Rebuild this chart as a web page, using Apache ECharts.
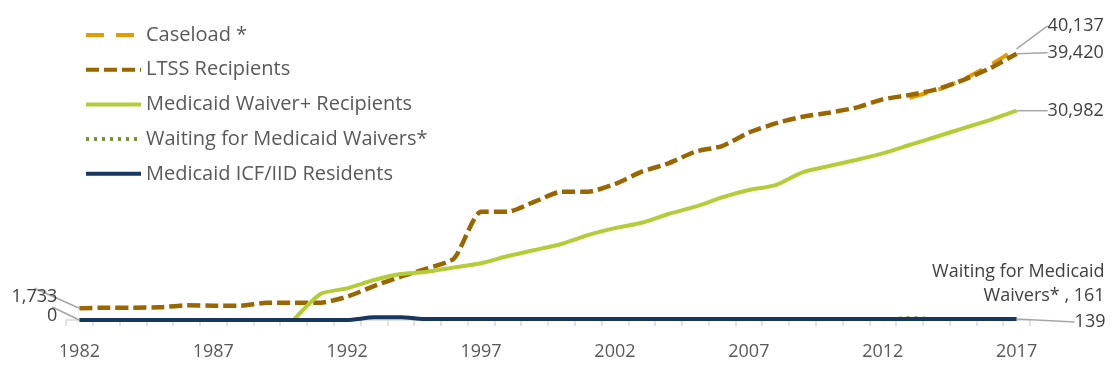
<!DOCTYPE html>
<html><head><meta charset="utf-8">
<script src="https://cdn.jsdelivr.net/npm/echarts@6/dist/echarts.min.js"></script>
<style>html,body{margin:0;padding:0;background:#fff}#c{width:1112px;height:365px}</style>
</head><body><div id="c"></div>
<script>
const years = ['1982','1983','1984','1985','1986','1987','1988','1989','1990','1991',
  '1992','1993','1994','1995','1996','1997','1998','1999','2000','2001',
  '2002','2003','2004','2005','2006','2007','2008','2009','2010','2011',
  '2012','2013','2014','2015','2016','2017'];
const caseload = [null,null,null,null,null,null,null,null,null,null,
  null,null,null,null,null,null,null,null,null,null,
  null,null,null,null,null,null,null,null,null,null,
  null,32900,34000,35600,37700,40137];
const ltss = [1733,1820,1820,1870,2170,2120,2120,2560,2560,2560,
  3450,5030,6410,7650,9130,16030,16030,17510,18990,18990,
  20130,21950,23190,24910,25750,27730,29110,30090,30690,31430,
  32660,33300,34140,35520,37250,39420];
const medicaidWaiver = [null,null,null,null,null,null,null,null,0,3850,
  4690,5920,6800,7150,7790,8390,9470,10360,11250,12580,
  13600,14400,15690,16770,18150,19240,19980,21860,22790,23680,
  24670,25900,27130,28370,29600,30982];
const waiting = [null,null,null,null,null,null,null,null,null,null,
  null,null,null,null,null,null,null,null,null,null,
  null,null,null,null,null,null,null,null,null,null,
  50,350,200,150,150,161];
const icf = [0,0,0,0,0,0,0,0,0,0,
  0,400,400,139,139,139,139,139,139,139,
  139,139,139,139,139,139,139,139,139,139,
  139,139,139,139,139,139];

const names = ['Caseload *','LTSS Recipients','Medicaid Waiver+ Recipients','Waiting for Medicaid Waivers*','Medicaid ICF/IID Residents'];
const FONT = '"Open Sans", sans-serif';
const LBL = {fontFamily: FONT, fontSize: 18, color: '#404040', padding: [0, 3]};
const LEAD = {show: true, length2: 11, lineStyle: {color: '#a6a6a6', width: 1.5}};

function fmt(n) { return n.toLocaleString('en-US'); }
function withLabels(arr, specs) {
  return arr.map((v, i) => {
    const s = specs[i];
    if (!s) return v;
    return {
      value: v,
      label: Object.assign({show: true, position: s.pos,
        formatter: s.text || fmt(v)}, LBL, s.extra || {}),
      labelLine: s.line ? LEAD : {show: false}
    };
  });
}
const last = years.length - 1;

function lineSeries(name, data, color, width, type, moves) {
  return {
    name: name, type: 'line', data: data, smooth: 0.2,
    symbol: 'circle', symbolSize: 0, showSymbol: true, showAllSymbol: true,
    clip: false, connectNulls: false,
    itemStyle: {color: color},
    lineStyle: {color: color, width: width, type: type, cap: 'butt'},
    label: {show: false},
    labelLayout: function (p) { const m = moves[p.dataIndex]; return m ? {dx: m[0], dy: m[1]} : {}; },
    emphasis: {disabled: true},
    z: 2
  };
}

const series = [
  lineSeries(names[0], withLabels(caseload, {[last]: {pos: 'right', line: true}}), '#E39B00', 4, [18, 12],
    {[last]: [23, -23]}),
  lineSeries(names[1], withLabels(ltss, {
    0: {pos: 'left', line: true},
    [last]: {pos: 'right', line: true}
  }), '#996600', 4.5, [13, 5], {0: [-14, -11], [last]: [23, -1]}),
  lineSeries(names[2], withLabels(medicaidWaiver, {[last]: {pos: 'right', line: true}}), '#B4CC37', 4, 'solid',
    {[last]: [23, 0]}),
  lineSeries(names[3], withLabels(waiting, {[last]: {pos: 'left', line: false,
      text: 'Waiting for Medicaid\nWaivers* , ' + fmt(waiting[last]), extra: {lineHeight: 24}}}), '#77933C', 3, [3, 5],
    {[last]: [96, -35]}),
  lineSeries(names[4], withLabels(icf, {
    0: {pos: 'left', line: true},
    [last]: {pos: 'right', line: true}
  }), '#17375E', 4, 'solid', {0: [-14, -4], [last]: [50, 3]})
];

const chart = echarts.init(document.getElementById('c'));
chart.setOption({
  animation: false,
  backgroundColor: '#ffffff',
  grid: {left: 66, right: 82, top: 16, bottom: 45, containLabel: false},
  legend: {
    orient: 'vertical', left: 79, top: 18,
    itemWidth: 55, itemHeight: 14, itemGap: 10.7,
    itemStyle: {opacity: 0},
    lineStyle: {width: 4},
    textStyle: {fontFamily: FONT, fontSize: 20, color: '#595959', lineHeight: 24},
    data: names, selectedMode: false
  },
  xAxis: {
    type: 'category', data: years, boundaryGap: true,
    axisLine: {show: true, lineStyle: {color: '#d9d9d9', width: 1.5}},
    axisTick: {show: true, interval: 0, length: 6, lineStyle: {color: '#d9d9d9', width: 1.5}},
    axisLabel: {interval: 4, fontFamily: FONT, fontSize: 18, color: '#595959', margin: 23},
    splitLine: {show: false}
  },
  yAxis: {type: 'value', min: 0, max: 45000, show: false, splitLine: {show: false}},
  series: series
});
</script>
</body></html>
